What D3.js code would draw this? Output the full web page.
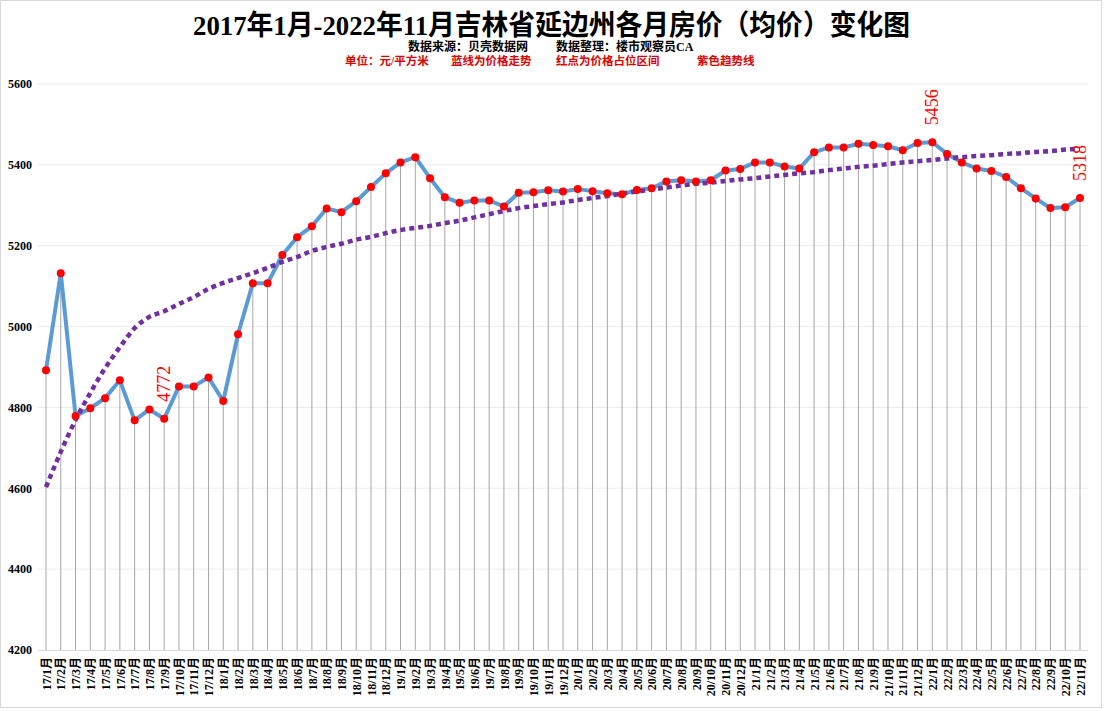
<!DOCTYPE html>
<html>
<head>
<meta charset="utf-8">
<script src="https://cdn.jsdelivr.net/npm/d3@7"></script>
<style>
  html, body { margin: 0; padding: 0; background: #fff; }
  svg { display: block; }
</style>
</head>
<body>
<svg id="chart" width="1104" height="711"></svg>
<script>
const months = [
  "17/1月","17/2月","17/3月","17/4月","17/5月","17/6月","17/7月","17/8月","17/9月","17/10月","17/11月","17/12月",
  "18/1月","18/2月","18/3月","18/4月","18/5月","18/6月","18/7月","18/8月","18/9月","18/10月","18/11月","18/12月",
  "19/1月","19/2月","19/3月","19/4月","19/5月","19/6月","19/7月","19/8月","19/9月","19/10月","19/11月","19/12月",
  "20/1月","20/2月","20/3月","20/4月","20/5月","20/6月","20/7月","20/8月","20/9月","20/10月","20/11月","20/12月",
  "21/1月","21/2月","21/3月","21/4月","21/5月","21/6月","21/7月","21/8月","21/9月","21/10月","21/11月","21/12月",
  "22/1月","22/2月","22/3月","22/4月","22/5月","22/6月","22/7月","22/8月","22/9月","22/10月","22/11月"
];
const prices = [
  4892, 5132, 4779, 4798, 4823, 4867, 4768, 4795, 4772, 4852, 4852, 4874,
  4816, 4981, 5107, 5107, 5177, 5221, 5248, 5292, 5283, 5310, 5345, 5379,
  5406, 5419, 5367, 5320, 5306, 5312, 5312, 5297, 5331, 5332, 5337, 5334,
  5340, 5335, 5330, 5327, 5338, 5342, 5359, 5362, 5359, 5362, 5386, 5390,
  5406, 5406, 5396, 5391, 5431, 5443, 5443, 5452, 5449, 5446, 5436, 5454,
  5456, 5427, 5406, 5391, 5385, 5370, 5342, 5317, 5293, 5295, 5318
];
const trend = [
  4603, 4690, 4769, 4836, 4897, 4949, 4996, 5024, 5038, 5056, 5073, 5093,
  5108, 5120, 5132, 5145, 5160, 5172, 5187, 5197, 5205, 5215, 5222, 5231,
  5239, 5244, 5249, 5256, 5262, 5270, 5278, 5286, 5293, 5298, 5303, 5307,
  5313, 5318, 5323, 5329, 5334, 5339, 5344, 5349, 5353, 5356, 5360, 5364,
  5367, 5371, 5375, 5379, 5382, 5387, 5391, 5395, 5398, 5402, 5406, 5409,
  5412, 5416, 5419, 5422, 5424, 5427, 5429, 5432, 5434, 5438, 5440
];
const yTicks = [4200, 4400, 4600, 4800, 5000, 5200, 5400, 5600];
const labelled = ["17/9月", "22/1月", "22/11月"];

const titleText = "2017年1月-2022年11月吉林省延边州各月房价（均价）变化图";
const sourceTexts = ["数据来源：贝壳数据网", "数据整理：楼市观察员CA"];
const noteTexts = ["单位：元/平方米", "蓝线为价格走势", "红点为价格占位区间", "紫色趋势线"];

const W = 1104, H = 711;
const plot = { left: 38, right: 1088, top: 84, bottom: 650 };
const serif = "'Liberation Serif','Times New Roman','Noto Sans CJK SC',serif";
const cjk = "'Liberation Serif','Noto Sans CJK SC',serif";

const svg = d3.select("#chart");
svg.append("rect").attr("x", 0.5).attr("y", 0.5).attr("width", W - 3).attr("height", H - 4)
  .attr("fill", "#fff").attr("stroke", "#d9d9d9").attr("stroke-width", 1);

const x = d3.scalePoint().domain(months).range([46, 1080]);
const y = d3.scaleLinear().domain([4200, 5600]).range([plot.bottom, plot.top]);

// gridlines
svg.append("g").selectAll("line").data(yTicks.slice(1)).join("line")
  .attr("x1", plot.left).attr("x2", plot.right)
  .attr("y1", d => y(d)).attr("y2", d => y(d))
  .attr("stroke", "#ececec").attr("stroke-width", 1);

// y axis labels
const yAxis = d3.axisLeft(y).tickValues(yTicks).tickSize(0).tickPadding(0).tickFormat(d3.format("d"));
const gy = svg.append("g").attr("transform", "translate(32,0)").call(yAxis);
gy.select(".domain").remove();
gy.selectAll("text").attr("font-family", serif).attr("font-weight", "bold")
  .attr("font-size", 12).attr("fill", "#000");

// drop lines
svg.append("g").selectAll("line").data(months).join("line")
  .attr("x1", d => x(d)).attr("x2", d => x(d))
  .attr("y1", (d, i) => y(prices[i])).attr("y2", plot.bottom)
  .attr("stroke", "#a6a6a6").attr("stroke-width", 1);

// x axis
const xAxis = d3.axisBottom(x).tickSize(0).tickPadding(0);
const gx = svg.append("g").attr("transform", `translate(0,${plot.bottom})`).call(xAxis);
gx.select(".domain").attr("d", `M${plot.left},0.5H${plot.right}`).attr("stroke", "#d9d9d9");
gx.selectAll("text")
  .attr("font-family", serif).attr("font-weight", "bold").attr("font-size", 12).attr("fill", "#000")
  .attr("text-anchor", "end").attr("dy", "0.35em")
  .attr("transform", "translate(0,7) rotate(-90)").attr("y", 0).attr("x", 0);

// price line
const line = d3.line().x((d, i) => x(months[i])).y(d => y(d));
svg.append("path").datum(prices).attr("d", line)
  .attr("fill", "none").attr("stroke", "#5B9BD5").attr("stroke-width", 4)
  .attr("stroke-linejoin", "round").attr("stroke-linecap", "round");

// trend line
svg.append("path").datum(trend).attr("d", d3.line().curve(d3.curveMonotoneX).x((d, i) => x(months[i])).y(d => y(d)))
  .attr("fill", "none").attr("stroke", "#7030A0").attr("stroke-width", 4.5)
  .attr("stroke-dasharray", "5,4");

// red dots
svg.append("g").selectAll("circle").data(prices).join("circle")
  .attr("cx", (d, i) => x(months[i])).attr("cy", d => y(d)).attr("r", 4)
  .attr("fill", "#FF0000");

// value labels
svg.append("g").selectAll("text").data(labelled).join("text")
  .attr("transform", d => {
    const i = months.indexOf(d);
    return `translate(${x(d) + 6},${y(prices[i]) - 17}) rotate(-90)`;
  })
  .attr("font-family", serif).attr("font-size", 18).attr("fill", "#FF0000")
  .text(d => prices[months.indexOf(d)]);

// titles
svg.append("text").attr("x", 193).attr("y", 35)
  .attr("textLength", 717).attr("lengthAdjust", "spacingAndGlyphs")
  .attr("font-family", cjk).attr("font-weight", "bold").attr("font-size", 28).attr("fill", "#000")
  .text(titleText);

const srcX = [408, 556];
svg.append("g").selectAll("text").data(sourceTexts).join("text")
  .attr("x", (d, i) => srcX[i]).attr("y", 51)
  .attr("font-family", cjk).attr("font-weight", "bold").attr("font-size", 12).attr("fill", "#000")
  .text(d => d);

const noteX = [345, 451, 556, 697];
svg.append("g").selectAll("text").data(noteTexts).join("text")
  .attr("x", (d, i) => noteX[i]).attr("y", 65)
  .attr("font-family", cjk).attr("font-weight", "bold").attr("font-size", 11.5).attr("fill", "#E00000")
  .text(d => d);
</script>
</body>
</html>
